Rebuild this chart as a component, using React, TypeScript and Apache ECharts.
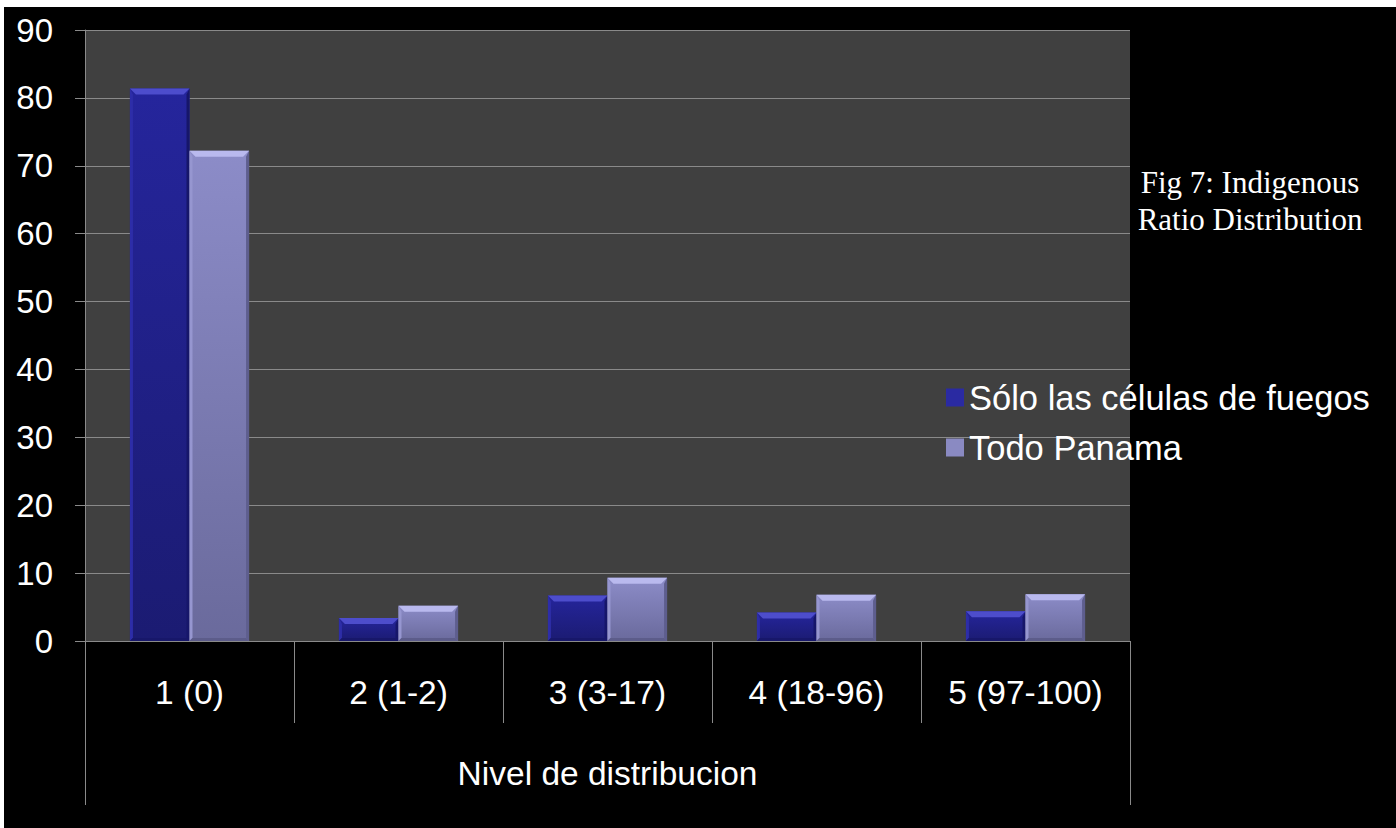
import React, { useEffect, useRef } from "react";
import * as echarts from "echarts";

// Category labels of the distribution levels
const categories = ["1 (0)", "2 (1-2)", "3 (3-17)", "4 (18-96)", "5 (97-100)"];
const groupLabel = ["Nivel de distribucion"];
const seriesNames = ["Sólo las células de fuegos", "Todo Panama"];
// Percentages per level
const fireCells = [81.4, 3.4, 6.7, 4.2, 4.4];
const allPanama = [72.2, 5.2, 9.3, 6.8, 6.9];
const yTicks = { min: 0, max: 90, interval: 10 };
const figTitle = "Fig 7: Indigenous\nRatio Distribution";

const SANS = "'Liberation Sans', Arial, sans-serif";
const SERIF = "'Liberation Serif', 'Times New Roman', serif";
const GRID_GRAY = "#8a8a8a";
const BAR_FRAC = 0.285;
const BEVEL = 6;

type Palette = {
  bodyTop: string;
  bodyBottom: string;
  topBevel: string;
  leftBevel: string;
  rightBevel: string;
  bottomBevel: string;
  legend: string;
};

const palettes: Palette[] = [
  {
    bodyTop: "#25259c",
    bodyBottom: "#1b1b72",
    topBevel: "#4d4dcc",
    leftBevel: "#2d2da8",
    rightBevel: "#16166a",
    bottomBevel: "#17176a",
    legend: "#2a2aa2",
  },
  {
    bodyTop: "#8c8cc8",
    bodyBottom: "#6a6a9c",
    topBevel: "#b9b9ee",
    leftBevel: "#9696d0",
    rightBevel: "#5e5e8e",
    bottomBevel: "#5c5c8a",
    legend: "#8a8ac2",
  },
];

function makeRenderItem(pal: Palette) {
  return (params: any, api: any) => {
    const cat = api.value(0);
    const val = api.value(1);
    const base = api.coord([cat, 0]);
    const top = api.coord([cat, val]);
    const catW = api.size([1, 0])[0];
    const barW = catW * BAR_FRAC;
    const x0 = params.seriesIndex === 0 ? base[0] - barW : base[0];
    const x1 = x0 + barW;
    const y0 = top[1];
    const y1 = base[1];
    const b = Math.min(BEVEL, (y1 - y0) / 2);
    const bs = Math.min(3, (y1 - y0) / 2);
    return {
      type: "group",
      children: [
        {
          type: "rect",
          shape: { x: x0, y: y0, width: barW, height: y1 - y0 },
          style: {
            fill: new echarts.graphic.LinearGradient(0, 0, 0, 1, [
              { offset: 0, color: pal.bodyTop },
              { offset: 1, color: pal.bodyBottom },
            ]),
          },
        },
        {
          type: "polygon",
          shape: { points: [[x0, y0], [x0 + bs, y0 + b], [x0 + bs, y1 - bs], [x0, y1]] },
          style: { fill: pal.leftBevel },
        },
        {
          type: "polygon",
          shape: { points: [[x1, y0], [x1, y1], [x1 - bs, y1 - bs], [x1 - bs, y0 + b]] },
          style: { fill: pal.rightBevel },
        },
        {
          type: "polygon",
          shape: { points: [[x0, y1], [x0 + bs, y1 - bs], [x1 - bs, y1 - bs], [x1, y1]] },
          style: { fill: pal.bottomBevel },
        },
        {
          type: "polygon",
          shape: { points: [[x0, y0], [x1, y0], [x1 - b, y0 + b], [x0 + b, y0 + b]] },
          style: { fill: pal.topBevel },
        },
      ],
    };
  };
}

export default function App() {
  const ref = useRef<HTMLDivElement>(null);

  useEffect(() => {
    if (!ref.current) return;
    const chart = echarts.init(ref.current, undefined, { renderer: "svg" });
    const seriesData = [fireCells, allPanama];

    chart.setOption({
      animation: false,
      backgroundColor: "#000000",
      grid: {
        left: 81,
        right: 266,
        top: 23,
        bottom: 187,
        show: true,
        backgroundColor: "#404040",
        borderWidth: 0,
      },
      legend: {
        orient: "vertical",
        left: 937,
        top: 368,
        itemWidth: 18,
        itemHeight: 18,
        itemGap: 15,
        icon: "rect",
        data: seriesNames,
        textStyle: {
          color: "#ffffff",
          fontFamily: SANS,
          fontSize: 34.5,
          lineHeight: 35,
        },
      },
      xAxis: [
        {
          type: "category",
          data: categories,
          position: "bottom",
          axisLine: { show: true, lineStyle: { color: GRID_GRAY, width: 1 } },
          axisTick: {
            show: true,
            interval: 0,
            length: 82,
            lineStyle: { color: GRID_GRAY, width: 1 },
          },
          axisLabel: {
            interval: 0,
            color: "#ffffff",
            fontFamily: SANS,
            fontSize: 33.5,
            margin: 34,
          },
          splitLine: { show: false },
        },
        {
          type: "category",
          data: groupLabel,
          position: "bottom",
          offset: 82,
          axisLine: { show: false },
          axisTick: {
            show: true,
            interval: 0,
            length: 82,
            lineStyle: { color: GRID_GRAY, width: 1 },
          },
          axisLabel: {
            color: "#ffffff",
            fontFamily: SANS,
            fontSize: 33.5,
            margin: 33,
          },
        },
      ],
      yAxis: {
        type: "value",
        min: yTicks.min,
        max: yTicks.max,
        interval: yTicks.interval,
        axisLine: { show: true, lineStyle: { color: GRID_GRAY, width: 1 } },
        axisTick: { show: true, length: 10, lineStyle: { color: GRID_GRAY, width: 1 } },
        axisLabel: {
          color: "#ffffff",
          fontFamily: SANS,
          fontSize: 33,
          margin: 32,
        },
        splitLine: { show: true, lineStyle: { color: GRID_GRAY, width: 1 } },
      },
      series: seriesNames.map((name, i) => ({
        type: "custom",
        name,
        xAxisIndex: 0,
        yAxisIndex: 0,
        itemStyle: { color: palettes[i].legend },
        encode: { x: 0, y: 1 },
        data: seriesData[i].map((v, c) => [c, v]),
        renderItem: makeRenderItem(palettes[i]),
        z: 3,
      })),
      graphic: [
        {
          type: "text",
          x: 1246,
          y: 157,
          style: {
            text: figTitle,
            fill: "#ffffff",
            font: `31px ${SERIF}`,
            textAlign: "center",
            lineHeight: 37,
          },
        },
      ],
    });

    return () => chart.dispose();
  }, []);

  return (
    <div
      style={{
        position: "fixed",
        left: 0,
        top: 0,
        width: 1396,
        height: 828,
        background: "#ffffff",
        overflow: "hidden",
      }}
    >
      <div
        ref={ref}
        style={{ position: "absolute", left: 4, top: 7, width: 1392, height: 821 }}
      />
    </div>
  );
}
